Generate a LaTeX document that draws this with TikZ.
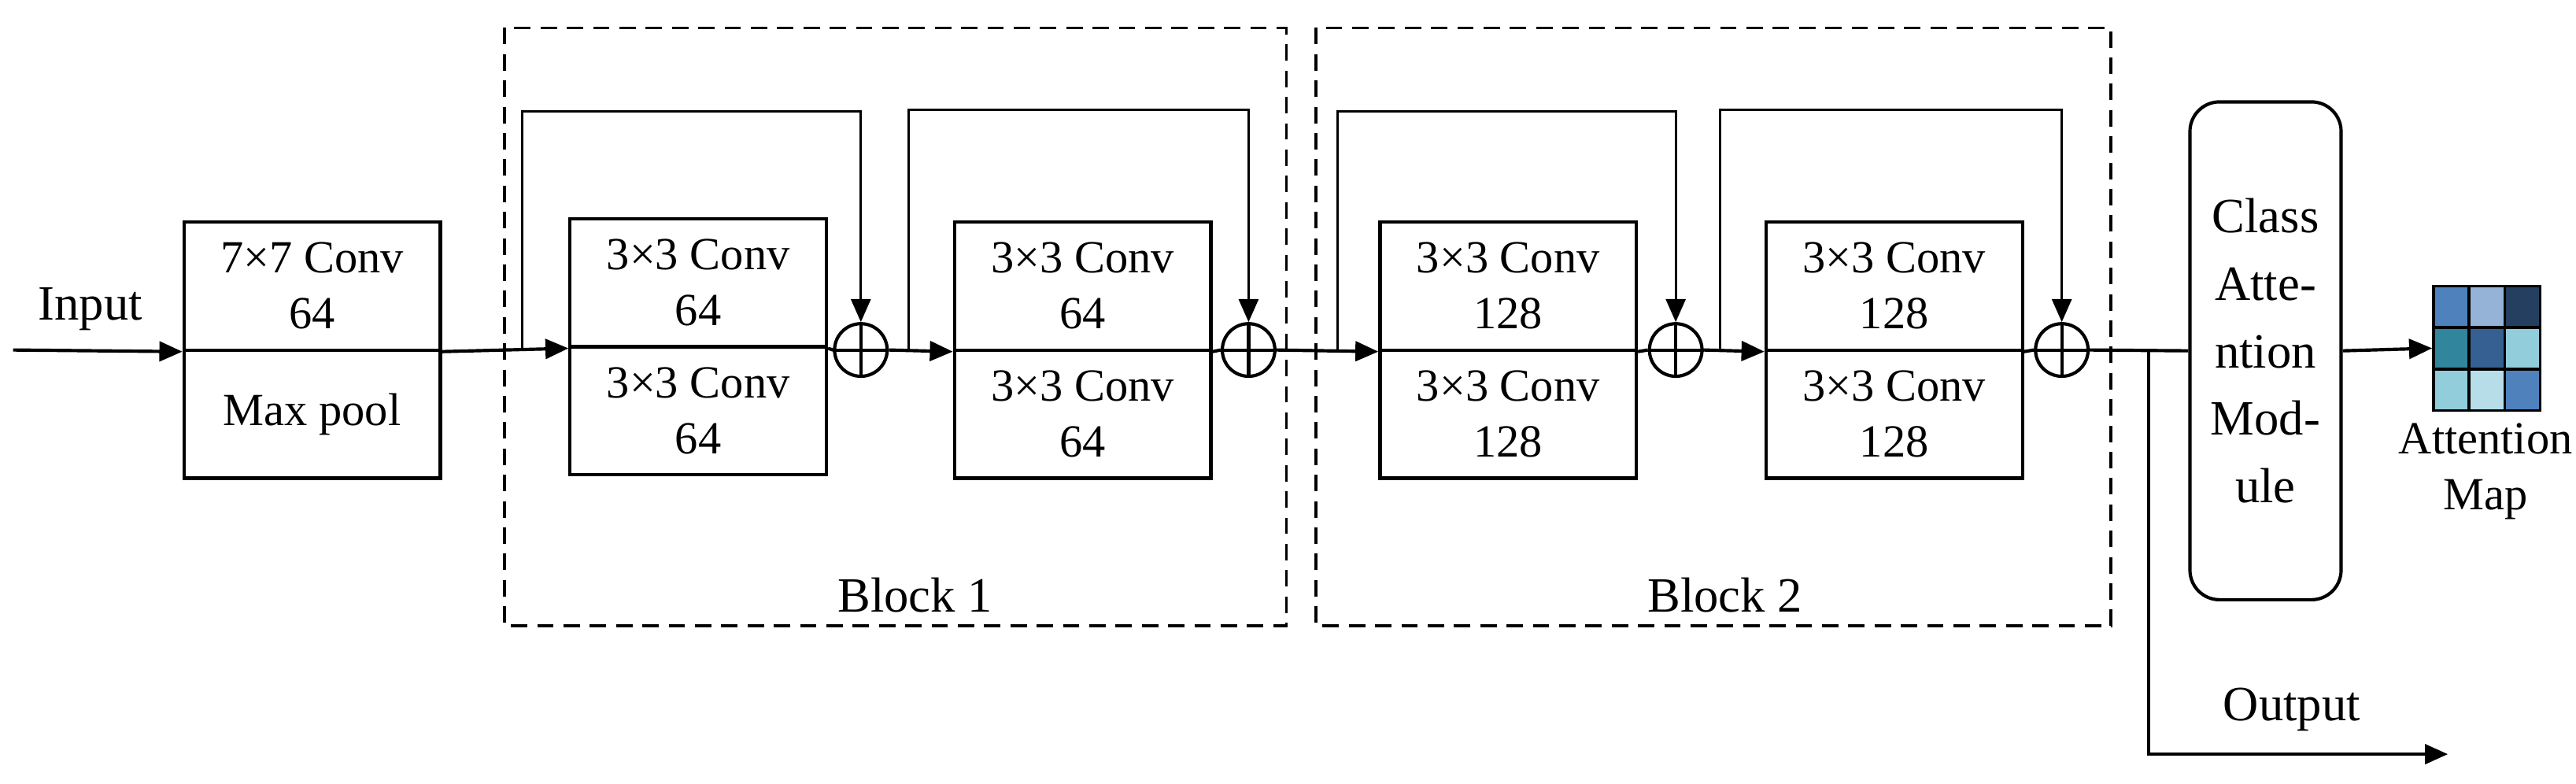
\documentclass[tikz,border=0pt]{standalone}
\usepackage{fontspec}
\setmainfont{Liberation Serif}
\usetikzlibrary{arrows.meta}
\definecolor{c11}{HTML}{4F81BD}\definecolor{c12}{HTML}{95B3D7}\definecolor{c13}{HTML}{243F60}
\definecolor{c21}{HTML}{31859C}\definecolor{c22}{HTML}{366092}\definecolor{c23}{HTML}{92CDDC}
\definecolor{c31}{HTML}{92CDDC}\definecolor{c32}{HTML}{B7DEE8}\definecolor{c33}{HTML}{4F81BD}
\begin{document}
\begin{tikzpicture}[x=0.5pt,y=-0.5pt,
 box/.style={draw,line width=1pt,minimum width=78pt,minimum height=39pt,inner sep=0pt,align=center,font=\fontsize{14}{17}\selectfont},
 main/.style={line width=1pt},
 arr/.style={-{Triangle[length=7pt,width=6pt]}},
 skip/.style={line width=0.7pt},
 plus/.style={draw,circle,line width=1pt,minimum size=16pt,inner sep=0pt},
 blk/.style={draw,dashed,line width=0.9pt,dash pattern=on 5pt off 3pt},
 lbl/.style={font=\fontsize{15}{18}\selectfont},
 cell/.style={draw=black,line width=0.8pt,minimum width=10.8pt,minimum height=12.6pt,inner sep=0pt}]
\useasboundingbox (0,0) rectangle (1568,477);
% blocks
\draw[blk] (307,17) rectangle (783,381);
\draw[blk] (801,17) rectangle (1285,381);
\node[lbl] (b1) at (557,362) {Block 1};
\node[lbl] (b2) at (1050,362) {Block 2};
% first box
\node[box] (c7a) at (190,174) {7×7 Conv\\64};
\node[box] (c7b) at (190,252) {Max pool};
\coordinate (in) at (8,213);
\node[lbl] (input) at (55,188) {Input};
\draw[main,arr] (in) -- (c7a.south west);
% conv boxes
\node[box] (a1) at (425,172) {3×3 Conv\\64};
\node[box] (a2) at (425,250) {3×3 Conv\\64};
\node[box] (b1a) at (659,174) {3×3 Conv\\64};
\node[box] (b1b) at (659,252) {3×3 Conv\\64};
\node[box] (d1a) at (918,174) {3×3 Conv\\128};
\node[box] (d1b) at (918,252) {3×3 Conv\\128};
\node[box] (e1a) at (1153,174) {3×3 Conv\\128};
\node[box] (e1b) at (1153,252) {3×3 Conv\\128};
\node[plus] (p1) at (524,213) {};
\node[plus] (p2) at (760,213) {};
\node[plus] (p3) at (1020,213) {};
\node[plus] (p4) at (1255,213) {};
\foreach \p in {p1,p2,p3,p4}{\draw[line width=1pt] (\p.north)--(\p.south) (\p.west)--(\p.east);}
\coordinate (s1) at (318,213);
\coordinate (s2) at (553,213);
\coordinate (s3) at (814,213);
\coordinate (s4) at (1047,213);
\draw[main,arr] (c7a.south east) -- (a1.south west);
\draw[main] (a1.south east) -- (p1.west);
\draw[main,arr] (p1.east) -- (b1a.south west);
\draw[main] (b1a.south east) -- (p2.west);
\draw[main,arr] (p2.east) -- (d1a.south west);
\draw[main] (d1a.south east) -- (p3.west);
\draw[main,arr] (p3.east) -- (e1a.south west);
\draw[main] (e1a.south east) -- (p4.west);
\draw[skip,arr] (s1) |- (421,68) -| (p1.north);
\draw[skip,arr] (s2) |- (655,67) -| (p2.north);
\draw[skip,arr] (s3) |- (917,68) -| (p3.north);
\draw[skip,arr] (s4) |- (1150,67) -| (p4.north);
% class attention
\node[draw,rounded corners=9pt,line width=1pt,minimum width=46pt,minimum height=151.5pt,align=center,inner sep=0pt,font=\fontsize{15}{20.5}\selectfont] (cam) at (1379,213.5) {Class\\Atte-\\ntion\\Mod-\\ule};
\coordinate (br) at (1308,213);
\coordinate (out) at (1490,459);
\draw[main] (p4.east) -- (cam.west);
\draw[main,arr] (br) |- (out);
\node[lbl] (output) at (1395,432) {Output};
% attention map
\foreach \r/\a/\b/\c in {1/c11/c12/c13,2/c21/c22/c23,3/c31/c32/c33}{
 \node[cell,fill=\a] (m\r1) at (1492,{174+25.3*(\r-0.5)}) {};
 \node[cell,fill=\b] (m\r2) at (1513.7,{174+25.3*(\r-0.5)}) {};
 \node[cell,fill=\c] (m\r3) at (1535.4,{174+25.3*(\r-0.5)}) {};
}
\draw[main,arr] (cam.east) -- (m21.west);
\node[font=\fontsize{14}{17}\selectfont,align=center] (amap) at (1513,287) {Attention\\Map};
\end{tikzpicture}
\end{document}
